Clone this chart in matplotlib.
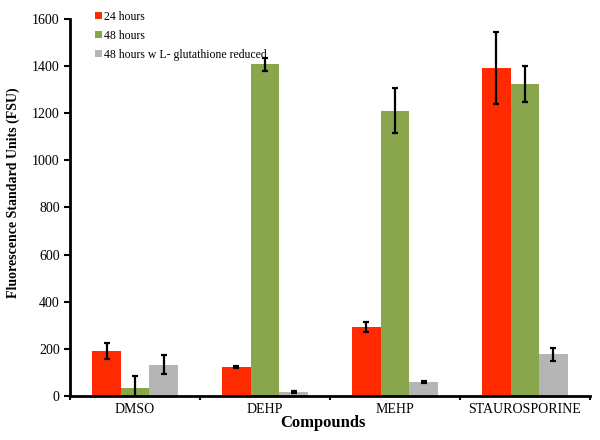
import numpy as np
import matplotlib.pyplot as plt

plt.rcParams['font.family'] = ['Liberation Serif', 'DejaVu Serif']

# data
compounds = ['DMSO', 'DEHP', 'MEHP', 'STAUROSPORINE']
series = ['24 hours', '48 hours', '48 hours w L- glutathione reduced']
h24 = [193, 123, 293, 1392]
h24_err = [34, 5, 22, 151]
h48 = [36, 1408, 1211, 1324]
h48_err = [48, 28, 97, 77]
h48_glu = [133, 18, 60, 177]
h48_glu_err = [39, 4, 3, 28]
colors = ['#ff2a00', '#8aa64c', '#b5b5b5']

fig = plt.figure(figsize=(6, 4.4), dpi=100)
ax = fig.add_axes([0.117, 0.1, 0.866, 0.857])

x = np.arange(len(compounds))
w = 0.22
vals = [h24, h48, h48_glu]
errs = [h24_err, h48_err, h48_glu_err]
for i, (v, e) in enumerate(zip(vals, errs)):
    ax.bar(x + (i - 1) * w, v, w, color=colors[i], label=series[i],
           yerr=e, error_kw=dict(ecolor='black', elinewidth=1.6, capsize=2, capthick=1.6))

ax.set_xlim(-0.5, len(compounds) - 0.5)
ax.set_ylim(0, 1600)
ax.set_yticks(range(0, 1601, 200))
ax.set_xticks(np.arange(-0.5, len(compounds), 1))
ax.set_xticklabels([])
ax.set_xticks(x, minor=True)
ax.set_xticklabels(compounds, minor=True)
ax.tick_params(axis='x', which='minor', length=0, pad=5, labelsize=10)
ax.tick_params(axis='x', which='major', length=3, width=1.5, direction='out')
ax.tick_params(axis='y', length=4, width=1.5, direction='out', labelsize=10)

for s in ['top', 'right']:
    ax.spines[s].set_visible(False)
for s in ['left', 'bottom']:
    ax.spines[s].set_linewidth(2)

ax.set_ylabel('Fluorescence Standard Units (FSU)', fontweight='bold', fontsize=10)
ax.yaxis.set_label_coords(-0.097, 0.54)
ax.set_xlabel('Compounds', fontweight='bold', fontsize=12)
ax.xaxis.set_label_coords(0.487, -0.05)

fig.legend(loc='upper left', bbox_to_anchor=(0.14, 1.0), frameon=False,
           fontsize=8.5, handlelength=0.6, handleheight=0.6, handletextpad=0.2,
           labelspacing=0.6)

fig.savefig('out.png', dpi=100)
